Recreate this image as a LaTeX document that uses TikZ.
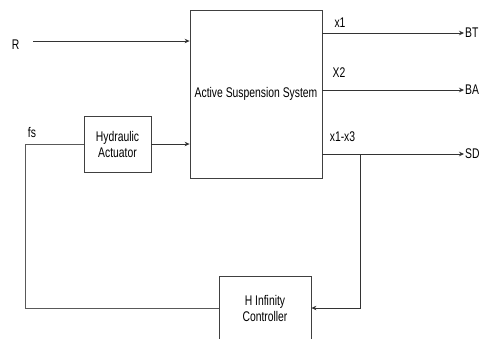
\documentclass[tikz,border=0pt]{standalone}
\usepackage{fontspec}
\setmainfont{Liberation Sans}[FakeStretch=0.74]
\usetikzlibrary{arrows.meta}

\tikzset{
  block/.style={draw=black!75, line width=0.8pt, inner sep=0pt, align=center,
    font=\fontsize{14}{16}\selectfont},
  sig/.style={draw=black!80, line width=0.8pt, -{Stealth[length=5pt,width=4.5pt]}},
  wire/.style={draw=black!65, line width=0.8pt},
  lbl/.style={inner sep=1pt, font=\fontsize{14}{16}\selectfont}
}

\begin{document}
\begin{tikzpicture}[x=1pt,y=-1pt]
\useasboundingbox (0,0) rectangle (480,338);
\clip (0,0) rectangle (480,338);

% blocks
\node[block, minimum width=132pt, minimum height=168pt] (sys) at (256,94) {Active Suspension System};
\node[block, minimum width=67pt, minimum height=56pt] (hyd) at (117.5,144) {Hydraulic\\Actuator};
\node[block, minimum width=92pt, minimum height=64pt] (ctrl) at (265,308) {H Infinity\\Controller};

% input
\node[lbl] (r) at (15.5,44.5) {R};
\coordinate (rin) at (33,41);
\draw[sig] (rin) -- (rin -| sys.west);
\draw[sig] (hyd.east) -- (hyd.east -| sys.west);

% outputs
\node[lbl, anchor=west] (bt) at (464,33) {BT};
\node[lbl, anchor=west] (ba) at (464,90) {BA};
\node[lbl, anchor=west] (sd) at (464,154) {SD};
\draw[sig] (sys.east |- bt.west) -- (bt.west);
\draw[sig] (sys.east |- ba.west) -- (ba.west);
\draw[sig] (sys.east |- sd.west) -- (sd.west);
\node[lbl] (x1) at (340,23) {x1};
\node[lbl] (x2) at (339,73) {X2};
\node[lbl] (x13) at (342.5,137) {x1-x3};

% feedback
\coordinate (tap) at (360,154);
\draw[sig] (tap) |- (ctrl.east);
\coordinate (fsc) at (25,144);
\draw[wire] (hyd.west) -- (fsc) |- (ctrl.west);
\node[lbl] (fs) at (32,132) {fs};
\end{tikzpicture}
\end{document}
